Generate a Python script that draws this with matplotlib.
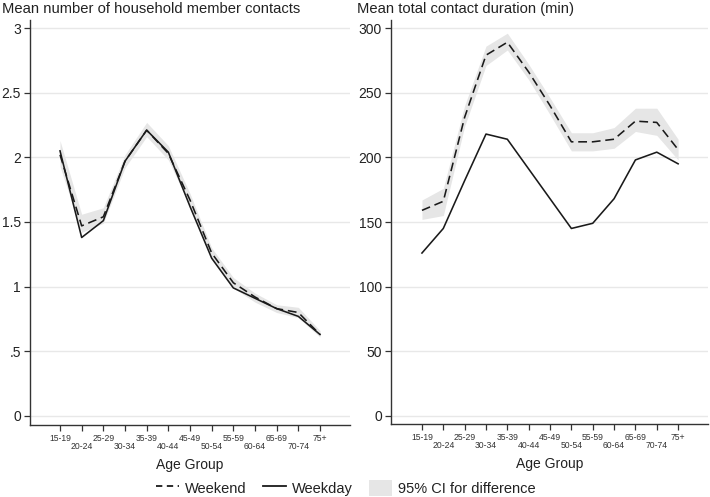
import matplotlib

matplotlib.use("Agg")
import matplotlib.pyplot as plt
from matplotlib.lines import Line2D
from matplotlib.patches import Patch

plt.rcParams["font.family"] = ["Liberation Sans", "DejaVu Sans"]

age_groups = ["15-19", "20-24", "25-29", "30-34", "35-39", "40-44", "45-49",
              "50-54", "55-59", "60-64", "65-69", "70-74", "75+"]

# household member contacts
hh_weekend = [2.02, 1.47, 1.54, 1.97, 2.21, 2.03, 1.67, 1.26, 1.03, 0.92, 0.83, 0.80, 0.63]
hh_weekday = [2.05, 1.38, 1.51, 1.97, 2.21, 2.04, 1.62, 1.22, 0.99, 0.91, 0.83, 0.77, 0.63]
hh_ci_lo = [1.93, 1.42, 1.49, 1.92, 2.16, 1.98, 1.62, 1.22, 0.99, 0.88, 0.80, 0.76, 0.61]
hh_ci_hi = [2.13, 1.56, 1.61, 2.02, 2.27, 2.09, 1.72, 1.30, 1.07, 0.95, 0.86, 0.84, 0.66]

# total contact duration (min)
dur_weekend = [159, 166, 231, 279, 289, 266, 240, 212, 212, 214, 228, 227, 206]
dur_weekday = [126, 145, 182, 218, 214, 191, 168, 145, 149, 168, 198, 204, 195]
dur_ci_lo = [152, 155, 224, 271, 283, 260, 233, 205, 205, 207, 220, 217, 198]
dur_ci_hi = [167, 176, 240, 286, 296, 272, 246, 219, 219, 223, 238, 238, 214]

hh_yticks = [0, 0.5, 1, 1.5, 2, 2.5, 3]
hh_ylabels = ["0", ".5", "1", "1.5", "2", "2.5", "3"]
dur_yticks = [0, 50, 100, 150, 200, 250, 300]
dur_ylabels = ["0", "50", "100", "150", "200", "250", "300"]

LINE = "#1a1a1a"
BAND = "#e6e6e6"
GRID = "#e8e8e8"
DASH = (0, (5.5, 3))

W, H = 710, 497
fig = plt.figure(figsize=(W / 100, H / 100), dpi=100)


def panel(rect, title, title_x, weekend, weekday, lo, hi, yticks, ylabels, ylim, xlim):
    ax = fig.add_axes(rect)
    x = list(range(len(age_groups)))
    ax.fill_between(x, lo, hi, color=BAND, lw=0, zorder=1)
    ax.plot(x, weekday, color=LINE, lw=1.15, zorder=3)
    ax.plot(x, weekend, color=LINE, lw=1.15, ls=DASH, zorder=3)
    ax.set_ylim(*ylim)
    ax.set_xlim(*xlim)
    ax.set_yticks(yticks)
    ax.set_yticklabels(ylabels)
    ax.yaxis.grid(True, color=GRID, lw=1.0, zorder=0)
    ax.set_axisbelow(True)
    for side in ("top", "right"):
        ax.spines[side].set_visible(False)
    for side in ("left", "bottom"):
        ax.spines[side].set_color("#333333")
        ax.spines[side].set_linewidth(1.0)
    ax.tick_params(axis="y", length=4, width=0.9, color="#333333", pad=2.5,
                   labelsize=10, labelcolor="#222222")
    ax.set_xticks(x)
    ax.set_xticklabels([g if i % 2 == 0 else "\n" + g for i, g in enumerate(age_groups)],
                       linespacing=0.8)
    ax.tick_params(axis="x", length=4.5, width=0.9, color="#333333", pad=2,
                   labelsize=6.2, labelcolor="#333333")
    ax.set_xlabel("Age Group", fontsize=10, color="#222222", labelpad=5)
    fig.text(title_x / W, 1 - 13 / H, title, fontsize=10.6, color="#222222",
             ha="left", va="baseline")
    return ax


panel([30 / W, 1 - 425 / H, 320 / W, 405 / H],
      "Mean number of household member contacts", 2,
      hh_weekend, hh_weekday, hh_ci_lo, hh_ci_hi,
      hh_yticks, hh_ylabels, (-0.07, 3.062), (-1.385, 13.385))

panel([391 / W, 1 - 424 / H, 317 / W, 404 / H],
      "Mean total contact duration (min)", 357,
      dur_weekend, dur_weekday, dur_ci_lo, dur_ci_hi,
      dur_yticks, dur_ylabels, (-6.2, 306.2), (-1.45, 13.4))

handles = [
    Line2D([], [], color=LINE, lw=1.3, ls=(0, (3.5, 2.5))),
    Line2D([], [], color=LINE, lw=1.3),
    Patch(facecolor=BAND, edgecolor="none"),
]
fig.legend(handles, ["Weekend", "Weekday", "95% CI for difference"],
           loc="center", bbox_to_anchor=(346 / W, 1 - 488 / H), ncol=3,
           frameon=False, fontsize=10.5, handlelength=1.6, handleheight=1.3,
           handletextpad=0.4, columnspacing=1.1, labelcolor="#222222")

fig.savefig("out.png", dpi=100)
